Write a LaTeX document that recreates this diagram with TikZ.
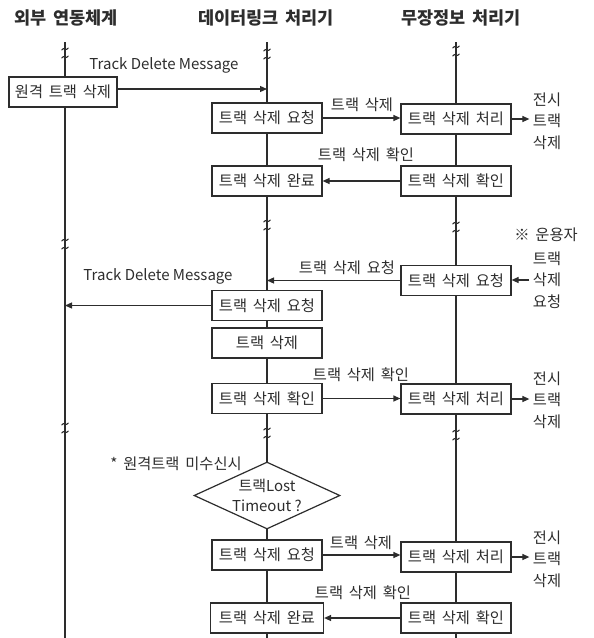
\documentclass[tikz,border=0pt]{standalone}
\usepackage{fontspec}
\setmainfont{Noto Sans CJK KR}[WordSpace=1.7]
\newfontfamily\latinfont{Noto Sans CJK KR}
\usetikzlibrary{arrows.meta,shapes.geometric}
\definecolor{ink}{RGB}{45,45,45}

% break mark on a lifeline: two small tildes across the line
\newcommand\lifebreak[2]{%
  \draw[ink,line width=1pt] (#1-3.5,#2-4+1.2) .. controls (#1-1,#2-4-3) and (#1+1,#2-4+3) .. (#1+3.5,#2-4-1.2);
  \draw[ink,line width=1pt] (#1-3.5,#2+4+1.2) .. controls (#1-1,#2+4-3) and (#1+1,#2+4+3) .. (#1+3.5,#2+4-1.2);
}

\begin{document}
\begin{tikzpicture}[x=1pt,y=-1pt,
  every node/.style={text=ink, font=\fontsize{15.3}{21.5}\selectfont},
  box/.style={draw=ink, fill=white, line width=1.2pt, minimum width=110pt,
              minimum height=30pt, inner sep=0pt},
  life/.style={draw=ink, line width=1.3pt},
  msg/.style={draw=ink, line width=1.2pt, -{Triangle[length=7pt,width=6pt]}},
  head/.style={font=\fontsize{17.5}{20}\selectfont\bfseries},
  eng/.style={font=\fontsize{15}{20}\selectfont\latinfont},
  decision/.style={diamond, draw=ink, fill=white, line width=1.2pt,
              minimum width=146pt, minimum height=67pt, inner sep=0pt,
              aspect=2.18, align=center, font=\fontsize{15}{20}\selectfont},
]
\useasboundingbox (0,0) rectangle (594,638);

% column headings
\node[head] (hL) at (66,18) {외부 연동체계};
\node[head] (hM) at (266,18) {데이터링크 처리기};
\node[head] (hR) at (461,18) {무장정보 처리기};

% lifelines
\coordinate (Ltop) at (65,42);  \coordinate (Lbot) at (65,638);
\coordinate (Mtop) at (267,42); \coordinate (Mbot) at (267,638);
\coordinate (Rtop) at (456,42); \coordinate (Rbot) at (456,638);
\draw[life] (Ltop) -- (Lbot);
\draw[life] (Mtop) -- (Mbot);
\draw[life] (Rtop) -- (Rbot);

\lifebreak{65}{53}  \lifebreak{65}{244}  \lifebreak{65}{428}
\lifebreak{267}{54} \lifebreak{267}{225} \lifebreak{267}{433}
\lifebreak{456}{51} \lifebreak{456}{227} \lifebreak{456}{435}

% activity boxes
\node[box, minimum width=108pt] (ext) at (63,92) {원격 트랙 삭제};
\node[box] (m1) at (267,118) {트랙 삭제 요청};
\node[box] (r1) at (456,119) {트랙 삭제 처리};
\node[box] (r2) at (456,181) {트랙 삭제 확인};
\node[box] (m2) at (267,181) {트랙 삭제 완료};
\node[box] (r3) at (456,280.5) {트랙 삭제 요청};
\node[box] (m3) at (267,305.5) {트랙 삭제 요청};
\node[box] (m4) at (267,343) {트랙 삭제};
\node[box] (m5) at (267,398.5) {트랙 삭제 확인};
\node[box] (r4) at (456,399) {트랙 삭제 처리};
\node[decision] (dec) at (267,495.5) {트랙{\latinfont Lost}\\{\latinfont Timeout ?}};
\node[box] (m6) at (267,555) {트랙 삭제 요청};
\node[box] (r5) at (456,557) {트랙 삭제 처리};
\node[box] (r6) at (456,618) {트랙 삭제 확인};
\node[box, minimum width=113pt] (m7) at (267,618) {트랙 삭제 완료};

% side notes
\node[align=center] (d1) at (547,121) {전시\\트랙\\삭제};
\node (opn) at (546,235) {※ 운용자};
\node[align=center] (opr) at (547,280) {트랙\\삭제\\요청};
\node[align=center] (d2) at (547,400) {전시\\트랙\\삭제};
\node[align=center] (d3) at (547,559) {전시\\트랙\\삭제};
\node (note) at (176,464) {* 원격트랙 미수신시};

% message labels
\node[eng] (t1) at (164,65) {Track Delete Message};
\node (l1) at (362,105) {트랙 삭제};
\node (l2) at (366,155) {트랙 삭제 확인};
\node (l3) at (347,268) {트랙 삭제 요청};
\node[eng] (t2) at (158,276) {Track Delete Message};
\node (l4) at (361,375) {트랙 삭제 확인};
\node (l5) at (361,543) {트랙 삭제};
\node (l6) at (363,593) {트랙 삭제 확인};

% messages
\draw[msg] ([yshift=3pt]ext.east) -- ([yshift=3pt]ext.east -| Mtop);
\draw[msg] (m1.east) -- (m1.east -| r1.west);
\draw[msg] (r1.east) -- (r1.east -| d1.west);
\draw[msg] (r2.west) -- (r2.west -| m2.east);
\draw[msg] (r3.west) -- (r3.west -| Mtop);
\draw[msg] (opr.west) -- (opr.west -| r3.east);
\draw[msg] (m3.west) -- (m3.west -| Ltop);
\draw[msg] (m5.east) -- (m5.east -| r4.west);
\draw[msg] (r4.east) -- (r4.east -| d2.west);
\draw[msg] (m6.east) -- (m6.east -| r5.west);
\draw[msg] (r5.east) -- (r5.east -| d3.west);
\draw[msg] (r6.west) -- (r6.west -| m7.east);
\end{tikzpicture}
\end{document}
